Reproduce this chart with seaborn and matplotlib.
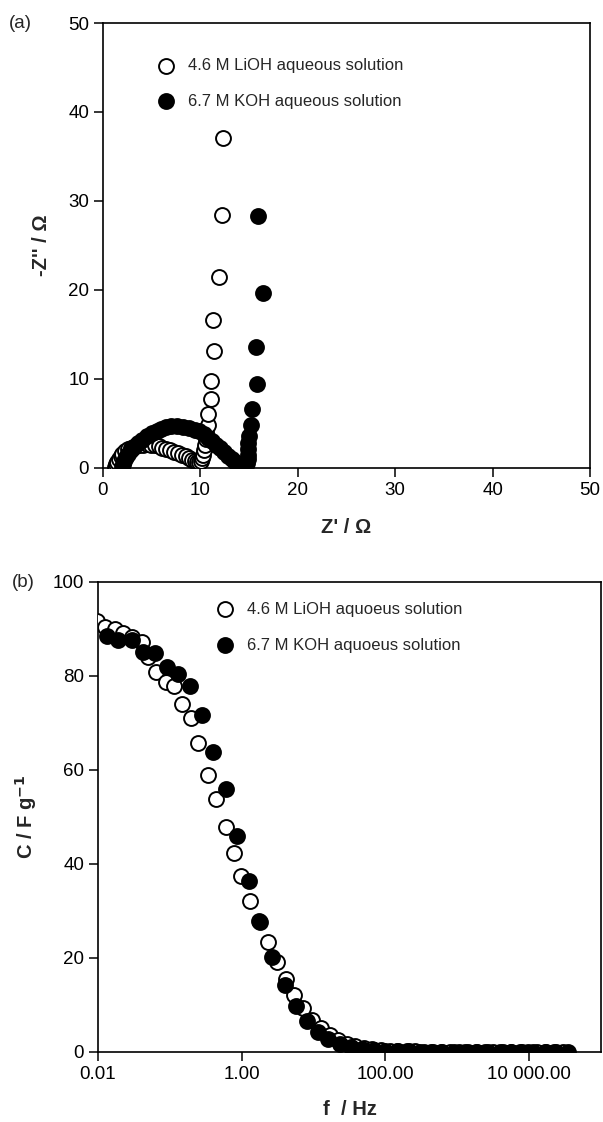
import seaborn as sns
import pandas as pd
import numpy as np
import matplotlib.pyplot as plt
from matplotlib.ticker import FixedLocator, FixedFormatter, NullLocator

sns.set_style('ticks')
plt.rcParams['font.family'] = ['Liberation Sans', 'DejaVu Sans']

# (a) Nyquist plot
lioh_zre = [1.2, 1.3, 1.45, 1.6, 1.8, 2.0, 2.3, 2.6, 2.9, 3.3, 3.7, 4.1, 4.5, 4.9, 5.3,
            5.7, 6.1, 6.5, 6.9, 7.3, 7.7, 8.1, 8.5, 8.8, 9.1, 9.4, 9.7, 9.9, 10.1, 10.2,
            10.3, 10.4, 10.5, 10.6, 10.6, 10.8, 10.8, 11.1, 11.1, 11.4, 11.3, 11.9, 12.2, 12.3]
lioh_zim = [0.1, 0.4, 0.7, 1.0, 1.3, 1.6, 1.9, 2.1, 2.3, 2.45, 2.55, 2.6, 2.65, 2.6, 2.55,
            2.45, 2.3, 2.15, 2.0, 1.85, 1.65, 1.5, 1.3, 1.1, 0.95, 0.8, 0.7, 0.65, 0.8, 1.1,
            1.5, 2.0, 2.6, 3.3, 4.0, 4.8, 6.1, 7.7, 9.8, 13.1, 16.6, 21.5, 28.4, 37.1]
koh_zre = [2.0, 2.1, 2.2, 2.4, 2.6, 2.9, 3.2, 3.6, 4.0, 4.5, 5.0, 5.5, 6.0, 6.5, 7.0,
           7.6, 8.2, 8.8, 9.4, 9.9, 10.4, 10.8, 11.2, 11.6, 12.0, 12.4, 12.8, 13.2, 13.6, 14.0,
           14.4, 14.7, 14.8, 14.9, 14.9, 14.9, 14.9, 15.0, 15.2, 15.3, 15.8, 15.7, 16.4, 15.9]
koh_zim = [0.1, 0.4, 0.8, 1.2, 1.6, 2.0, 2.4, 2.8, 3.2, 3.6, 3.95, 4.2, 4.4, 4.6, 4.7,
           4.7, 4.6, 4.45, 4.3, 4.1, 3.8, 3.4, 3.0, 2.6, 2.2, 1.8, 1.4, 1.0, 0.7, 0.4,
           0.25, 0.3, 0.6, 1.0, 1.5, 2.1, 2.8, 3.6, 4.8, 6.6, 9.4, 13.6, 19.7, 28.3]

# (b) capacitance vs frequency
lioh_f = [0.0096, 0.0125, 0.0172, 0.0225, 0.03, 0.0404, 0.05, 0.0652, 0.0881, 0.115,
          0.15, 0.194, 0.247, 0.34, 0.445, 0.6, 0.77, 0.99, 1.32, 1.75, 2.33, 3.1, 4.1,
          5.4, 7.2, 9.6, 12.7, 17, 22, 29, 38, 50, 66, 87, 115, 150, 200, 260, 350, 460,
          600, 800, 1050, 1400, 1850, 2450, 3200, 4300, 5600, 7400, 9800, 13000, 17000,
          22500, 30000]
lioh_c = [91.6, 90.5, 90.1, 89.1, 88.3, 87.3, 84.1, 80.9, 78.8, 77.9,
          74.0, 71.0, 65.8, 58.9, 53.8, 47.9, 42.3, 37.4, 32.2, 27.8, 23.3, 19.2, 15.5,
          12.1, 9.3, 6.8, 5.0, 3.6, 2.6, 1.8, 1.3, 0.9, 0.6, 0.45, 0.3, 0.25, 0.2, 0.15, 0.1, 0.1,
          0.1, 0.1, 0.1, 0.1, 0.1, 0.1, 0.1, 0.1, 0.1, 0.1, 0.1, 0.1, 0.1,
          0.1, 0.1]
koh_f = [0.0132, 0.0191, 0.0293, 0.0426, 0.062, 0.0899, 0.13, 0.19, 0.284, 0.40,
         0.60, 0.86, 1.26, 1.78, 2.66, 3.96, 5.68, 8.0, 11.4, 16, 23, 33, 48, 70,
         100, 145, 210, 300, 430, 620, 900, 1300, 1900, 2700, 3900, 5600, 8000,
         11500, 16500, 24000, 35000]
koh_c = [88.5, 87.7, 87.7, 85.2, 84.8, 82.0, 80.4, 77.9, 71.7, 63.9,
         55.9, 46.0, 36.4, 27.7, 20.3, 14.3, 9.8, 6.5, 4.3, 2.8, 1.8, 1.1, 0.7, 0.45,
         0.3, 0.2, 0.15, 0.1, 0.05, 0.05, 0.05, 0.05, 0.05, 0.05, 0.05, 0.05, 0.05,
         0.05, 0.05, 0.05, 0.05]

lab_a = ['4.6 M LiOH aqueous solution', '6.7 M KOH aqueous solution']
lab_b = ['4.6 M LiOH aquoeus solution', '6.7 M KOH aquoeus solution']

df_a = pd.concat([pd.DataFrame({'x': lioh_zre, 'y': lioh_zim, 's': lab_a[0]}),
                  pd.DataFrame({'x': koh_zre, 'y': koh_zim, 's': lab_a[1]})])
df_b = pd.concat([pd.DataFrame({'x': lioh_f, 'y': lioh_c, 's': lab_b[0]}),
                  pd.DataFrame({'x': koh_f, 'y': koh_c, 's': lab_b[1]})])

fig = plt.figure(figsize=(6.03, 11.22), dpi=100)
ax1 = fig.add_axes([0.1708, 0.5829, 0.8076, 0.3966])
ax2 = fig.add_axes([0.1625, 0.0624, 0.834, 0.4189])

ms = 115
for ax, df, labs in [(ax1, df_a, lab_a), (ax2, df_b, lab_b)]:
    sub = df[df['s'] == labs[0]]
    sns.scatterplot(data=sub, x='x', y='y', ax=ax, s=ms, facecolor='white',
                    edgecolor='black', linewidth=1.4, label=labs[0], zorder=3)
    sub = df[df['s'] == labs[1]]
    sns.scatterplot(data=sub, x='x', y='y', ax=ax, s=ms, color='black',
                    edgecolor='black', linewidth=1.4, label=labs[1], zorder=4)

for ax in (ax1, ax2):
    for sp in ax.spines.values():
        sp.set_linewidth(1.2)
        sp.set_color('black')
    ax.tick_params(direction='out', length=6.5, width=1.1, labelsize=13.5, colors='black')

ax1.set_xlim(0, 50)
ax1.set_ylim(0, 50)
ax1.set_xticks([0, 10, 20, 30, 40, 50])
ax1.set_yticks([0, 10, 20, 30, 40, 50])
ax1.set_xlabel("Z' / \u03a9", fontsize=14.5, fontweight='bold', labelpad=14)
ax1.set_ylabel("-Z'' / \u03a9", fontsize=14.5, fontweight='bold', labelpad=12)
ax1.legend(loc='upper left', bbox_to_anchor=(0.065, 0.955), frameon=False, fontsize=12,
           handletextpad=0.3, labelspacing=1.25, markerscale=1.0)

ax2.set_xscale('log')
ax2.set_xlim(0.01, 1e5)
ax2.set_ylim(0, 100)
ax2.xaxis.set_major_locator(FixedLocator([0.01, 1, 100, 10000]))
ax2.xaxis.set_major_formatter(FixedFormatter(['0.01', '1.00', '100.00', '10 000.00']))
ax2.xaxis.set_minor_locator(NullLocator())
ax2.set_yticks([0, 20, 40, 60, 80, 100])
ax2.set_xlabel('f  / Hz', fontsize=14.5, fontweight='bold', labelpad=12)
ax2.set_ylabel(r'C / F g$^{\mathbf{-1}}$', fontsize=14.5, fontweight='bold', labelpad=10)
ax2.legend(loc='upper left', bbox_to_anchor=(0.19, 0.99), frameon=False, fontsize=12,
           handletextpad=0.3, labelspacing=1.25, markerscale=1.0)

fig.text(0.015, 0.979, '(a)', fontsize=13.5, va='center')
fig.text(0.02, 0.481, '(b)', fontsize=13.5, va='center')

fig.savefig('out.png', dpi=100)
